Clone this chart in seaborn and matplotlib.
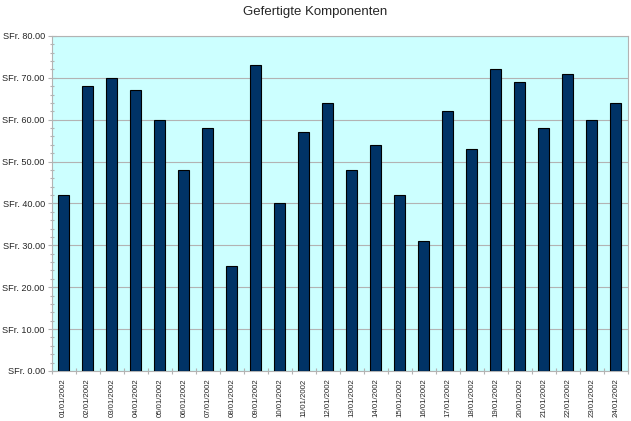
import matplotlib
matplotlib.use("Agg")
import matplotlib.pyplot as plt
import seaborn as sns
import pandas as pd
from matplotlib.ticker import MultipleLocator, FuncFormatter

dates = ["01/01/2002", "02/01/2002", "03/01/2002", "04/01/2002", "05/01/2002", "06/01/2002",
         "07/01/2002", "08/01/2002", "09/01/2002", "10/01/2002", "11/01/2002", "12/01/2002",
         "13/01/2002", "14/01/2002", "15/01/2002", "16/01/2002", "17/01/2002", "18/01/2002",
         "19/01/2002", "20/01/2002", "21/01/2002", "22/01/2002", "23/01/2002", "24/01/2002"]
values = [42, 68, 70, 67, 60, 48, 58, 25, 73, 40, 57, 64, 48, 54, 42, 31, 62, 53, 72, 69, 58, 71, 60, 64]

sns.set_theme(style="white")
plt.rcParams['font.family'] = ['Liberation Sans', 'DejaVu Sans']

df = pd.DataFrame({"Datum": dates, "Wert": values})

fig = plt.figure(figsize=(6.31, 4.21), dpi=100)
ax = fig.add_axes([0.082, 0.119, 0.913, 0.7955])
ax.set_facecolor("#ccffff")
sns.barplot(data=df, x="Datum", y="Wert", color="#003366", width=0.45,
            edgecolor="black", linewidth=0.8, saturation=1, ax=ax, zorder=3)
ax.set_xlim(-0.5, len(dates) - 0.5)
ax.set_ylim(0, 80)
ax.yaxis.set_major_locator(MultipleLocator(10))
ax.yaxis.set_minor_locator(MultipleLocator(2))
ax.yaxis.set_major_formatter(FuncFormatter(lambda v, p: f"SFr. {v:.2f}"))
ax.grid(axis="y", which="major", color="#b3b3b3", linewidth=0.8, zorder=1)
ax.set_axisbelow(True)
ax.set_xticks(range(len(dates)))
ax.set_xticklabels(dates, rotation=90, fontsize=5.6)
ax.set_xticks([i + 0.5 for i in range(-1, len(dates))], minor=True)
ax.tick_params(axis="x", which="major", length=0, pad=5.5)
ax.tick_params(axis="x", which="minor", length=5, width=0.8, color="#b3b3b3", direction="inout")
ax.tick_params(axis="y", which="major", length=6, width=0.8, color="#b3b3b3", direction="inout", labelsize=6.6, pad=2)
ax.tick_params(axis="y", which="minor", length=3, width=0.8, color="#b3b3b3", direction="inout")
ax.tick_params(axis="y", which="both", left=True)
ax.tick_params(axis="x", which="minor", bottom=True)
for s in ax.spines.values():
    s.set_color("#b3b3b3")
    s.set_linewidth(0.8)
ax.set_xlabel("")
ax.set_ylabel("")
fig.suptitle("Gefertigte Komponenten", fontsize=9.5, y=0.985)
fig.savefig("out.png", dpi=100)
